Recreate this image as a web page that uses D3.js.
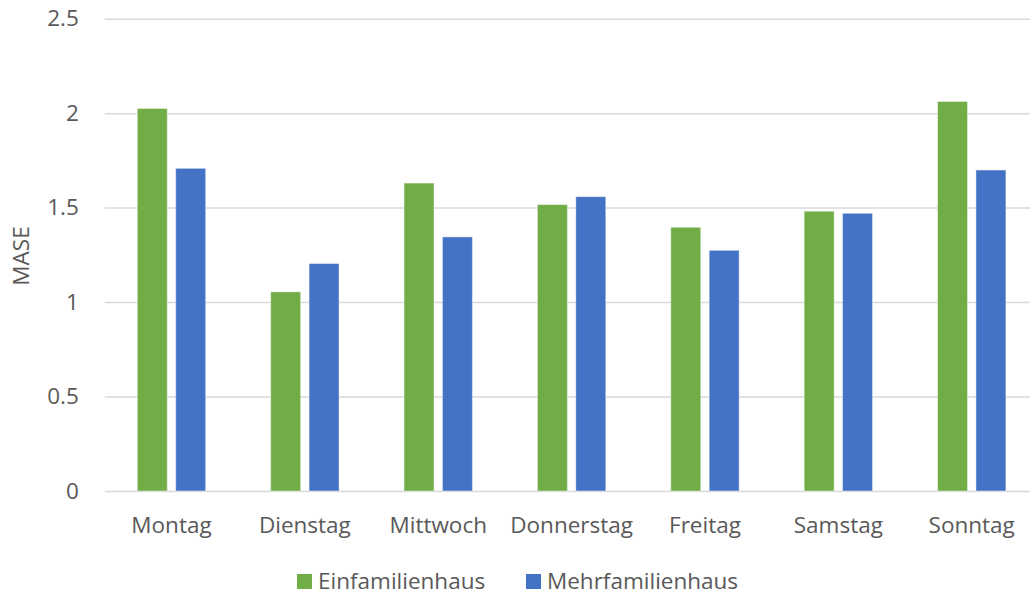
<!DOCTYPE html>
<html><head><meta charset="utf-8">
<script src="https://cdn.jsdelivr.net/npm/d3@7"></script>
<style>body{margin:0;background:#fff}svg{display:block}</style>
</head><body>
<svg id="chart" width="1030" height="595"></svg>
<script>
const categories = ["Montag","Dienstag","Mittwoch","Donnerstag","Freitag","Samstag","Sonntag"];
const seriesNames = ["Einfamilienhaus","Mehrfamilienhaus"];
const einfamilienhaus = [2.025, 1.054, 1.630, 1.516, 1.396, 1.481, 2.062];
const mehrfamilienhaus = [1.708, 1.204, 1.345, 1.558, 1.274, 1.470, 1.699];
const yTicks = [0, 0.5, 1, 1.5, 2, 2.5];
const yTickLabels = ["0","0.5","1","1.5","2","2.5"];
const colors = ["#70AD47","#4472C4"];

(function(){
const svg = d3.select("#chart");
const font = "'Open Sans', sans-serif";
const textColor = "#595959";
const fs = 22.5;

const plotLeft = 104.8, plotRight = 1038.4, plotTop = 18.7, plotBottom = 491;
const x0 = d3.scaleBand().domain(categories).range([plotLeft, plotRight]).padding(0);
const x1 = d3.scaleBand().domain(seriesNames).range([0, x0.bandwidth()]).paddingInner(0.219).paddingOuter(0.846);
const y = d3.scaleLinear().domain([0, 2.5]).range([plotBottom, plotTop]);

// gridlines
const yAxis = d3.axisLeft(y).tickValues(yTicks).tickSize(-(1030 - plotLeft)).tickFormat((d,i)=>yTickLabels[i]).tickPadding(26);
const gy = svg.append("g").attr("transform", `translate(${plotLeft},0)`).call(yAxis);
gy.select(".domain").remove();
gy.selectAll(".tick line").attr("stroke", "#d9d9d9").attr("stroke-width", 1.5);
gy.selectAll(".tick text").attr("font-family", font).attr("font-size", fs).attr("fill", textColor);

// bars
const data = categories.map((c,i)=>({cat:c, vals:[einfamilienhaus[i], mehrfamilienhaus[i]]}));
const groups = svg.append("g").selectAll("g").data(data).join("g")
  .attr("transform", d=>`translate(${x0(d.cat)},0)`);
groups.selectAll("rect").data(d=>d.vals.map((v,j)=>({name:seriesNames[j], v, j})))
  .join("rect")
  .attr("x", d=>x1(d.name))
  .attr("width", x1.bandwidth())
  .attr("y", d=>y(d.v))
  .attr("height", d=>y(0)-y(d.v))
  .attr("fill", d=>colors[d.j])
  .attr("stroke", "#fff").attr("stroke-opacity", 0.45).attr("stroke-width", 1);

// x axis labels
const xAxis = d3.axisBottom(x0).tickSize(0).tickPadding(26);
const gx = svg.append("g").attr("transform", `translate(0,${plotBottom})`).call(xAxis);
gx.select(".domain").remove();
gx.selectAll(".tick text").attr("font-family", font).attr("font-size", fs).attr("fill", textColor);

// y axis title
svg.append("text").attr("transform", "translate(29,256) rotate(-90)")
  .attr("text-anchor","middle").attr("font-family", font).attr("font-size", fs).attr("fill", textColor).text("MASE");

// legend
const legendX = [297, 526];
const lg = svg.append("g").selectAll("g").data(seriesNames).join("g")
  .attr("transform", (d,i)=>`translate(${legendX[i]},574)`);
lg.append("rect").attr("width", 15).attr("height", 15).attr("fill", (d,i)=>colors[i]);
lg.append("text").attr("x", 21).attr("y", 15).attr("font-family", font).attr("font-size", fs).attr("fill", textColor).text(d=>d);
})();
</script>
</body></html>
